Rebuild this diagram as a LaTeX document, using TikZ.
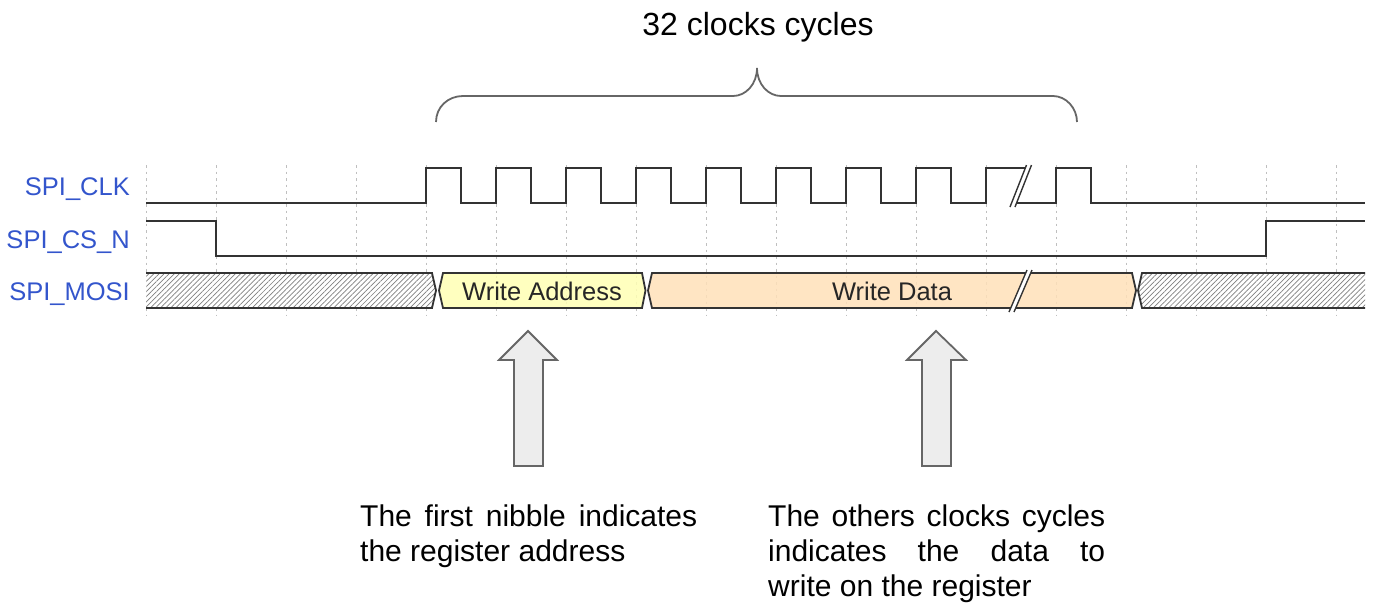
\documentclass[tikz,border=0pt]{standalone}
\usepackage{fontspec}
\setmainfont{Liberation Sans}
\usetikzlibrary{patterns.meta}
\definecolor{lblblue}{RGB}{51,85,204}
\definecolor{wyellow}{HTML}{FFFFB4}
\definecolor{worange}{HTML}{FFE0B9}
\definecolor{wline}{HTML}{333333}
\definecolor{bracegray}{HTML}{666666}
\begin{document}
\begin{tikzpicture}[x=1pt,y=-1pt,
  wave/.style={draw=wline,line width=1.8pt,line join=miter},
  gridl/.style={draw=black!25,dash pattern=on 2.5pt off 4pt,line width=0.8pt},
  lbl/.style={text=lblblue,font=\fontsize{25.5}{30}\selectfont,anchor=base east,inner sep=0pt},
  boxtxt/.style={font=\fontsize{25.5}{30}\selectfont,inner sep=0pt,text=black!85,anchor=base},
  hatchfill/.style={pattern={Lines[angle=45,distance=3.6pt,line width=0.7pt]},pattern color=black!50},
  blockarrow/.style={fill=black!7,draw=black!60,line width=1.8pt,line join=miter},
  brk/.style={draw=wline,line width=1.4pt},
  para/.style={text width=337pt,align=justify,inner sep=0pt,font=\fontsize{30}{35}\selectfont},
  bracel/.style={draw=bracegray,line width=1.8pt}]
\useasboundingbox (0,0) rectangle (1379,611);

% grid
\foreach \k in {0,...,17} \draw[gridl] ({146+70*\k},165) -- ({146+70*\k},316);

% labels
\node[lbl] (lclk) at (130,195) {SPI\_CLK};
\node[lbl] (lcs) at (130,248) {SPI\_CS\_N};
\node[lbl] (lmosi) at (130,300) {SPI\_MOSI};

% clock
\draw[wave] (146,203) -- (426,203)
  \foreach \i in {0,...,7} { -- ({426+70*\i},203) -- ({426+70*\i},168) -- ({461+70*\i},168) -- ({461+70*\i},203) -- ({496+70*\i},203) }
  -- (986,203) -- (986,168) -- (1030,168);
\draw[wave] (1011,203) -- (1056,203) -- (1056,168) -- (1091,168) -- (1091,203) -- (1365,203);
\fill[white] (1010,207) -- (1026.5,165) -- (1031.5,165) -- (1015,207) -- cycle;
\draw[brk] (1010,207) -- (1026.5,165) (1015,207) -- (1031.5,165);

% chip select
\draw[wave] (146,221) -- (216,221) -- (216,256) -- (1266,256) -- (1266,221) -- (1365,221);

% MOSI
\fill[white] (146,273) -- (432,273) -- (436,290.5) -- (432,308) -- (146,308) -- cycle;
\fill[hatchfill] (146,273) -- (432,273) -- (436,290.5) -- (432,308) -- (146,308) -- cycle;
\draw[wave] (146,273) -- (432,273) -- (436,290.5) -- (432,308) -- (146,308);

\fill[wyellow,fill opacity=0.85] (443,273) -- (642,273) -- (645.5,290.5) -- (642,308) -- (443,308) -- (439,290.5) -- cycle;
\draw[wave] (443,273) -- (642,273) -- (645.5,290.5) -- (642,308) -- (443,308) -- (439,290.5) -- cycle;

\fill[worange,fill opacity=0.85] (652,273) -- (1132,273) -- (1136,290.5) -- (1132,308) -- (652,308) -- (648,290.5) -- cycle;
\draw[wave] (652,273) -- (1132,273) -- (1136,290.5) -- (1132,308) -- (652,308) -- (648,290.5) -- cycle;

\fill[white] (1142,273) -- (1365,273) -- (1365,308) -- (1142,308) -- (1138,290.5) -- cycle;
\fill[hatchfill] (1142,273) -- (1365,273) -- (1365,308) -- (1142,308) -- (1138,290.5) -- cycle;
\draw[wave] (1365,273) -- (1142,273) -- (1138,290.5) -- (1142,308) -- (1365,308);

\fill[white] (1009,312) -- (1027,270) -- (1032,270) -- (1014,312) -- cycle;
\draw[brk] (1009,312) -- (1027,270) (1014,312) -- (1032,270);

\node[boxtxt] (waddr) at (542,300) {Write Address};
\node[boxtxt] (wdata) at (892,300) {Write Data};

% brace and title
\draw[bracel] (436,122) .. controls (436,107) and (448,96) .. (463,96) -- (733,96)
  .. controls (746,96) and (757,84) .. (757,68)
  .. controls (757,84) and (768,96) .. (781,96) -- (1053,96)
  .. controls (1066,96) and (1077,108) .. (1077,122);
\node[font=\fontsize{32}{38}\selectfont,anchor=base,inner sep=0pt] (title) at (758,35) {32 clocks cycles};

% block arrows
\draw[blockarrow] (528,331) -- (557,360) -- (543,360) -- (543,466) -- (514,466) -- (514,360) -- (499,360) -- cycle;
\draw[blockarrow] (936,331) -- (966,360) -- (951,360) -- (951,466) -- (922,466) -- (922,360) -- (907,360) -- cycle;

% explanations
\node[para,anchor=base west] (p1) at (360,526) {The first nibble indicates\linebreak the register address};
\node[para,anchor=base west] (p2) at (768,526) {The others clocks cycles\linebreak indicates the data to\linebreak write on the register};
\end{tikzpicture}
\end{document}
